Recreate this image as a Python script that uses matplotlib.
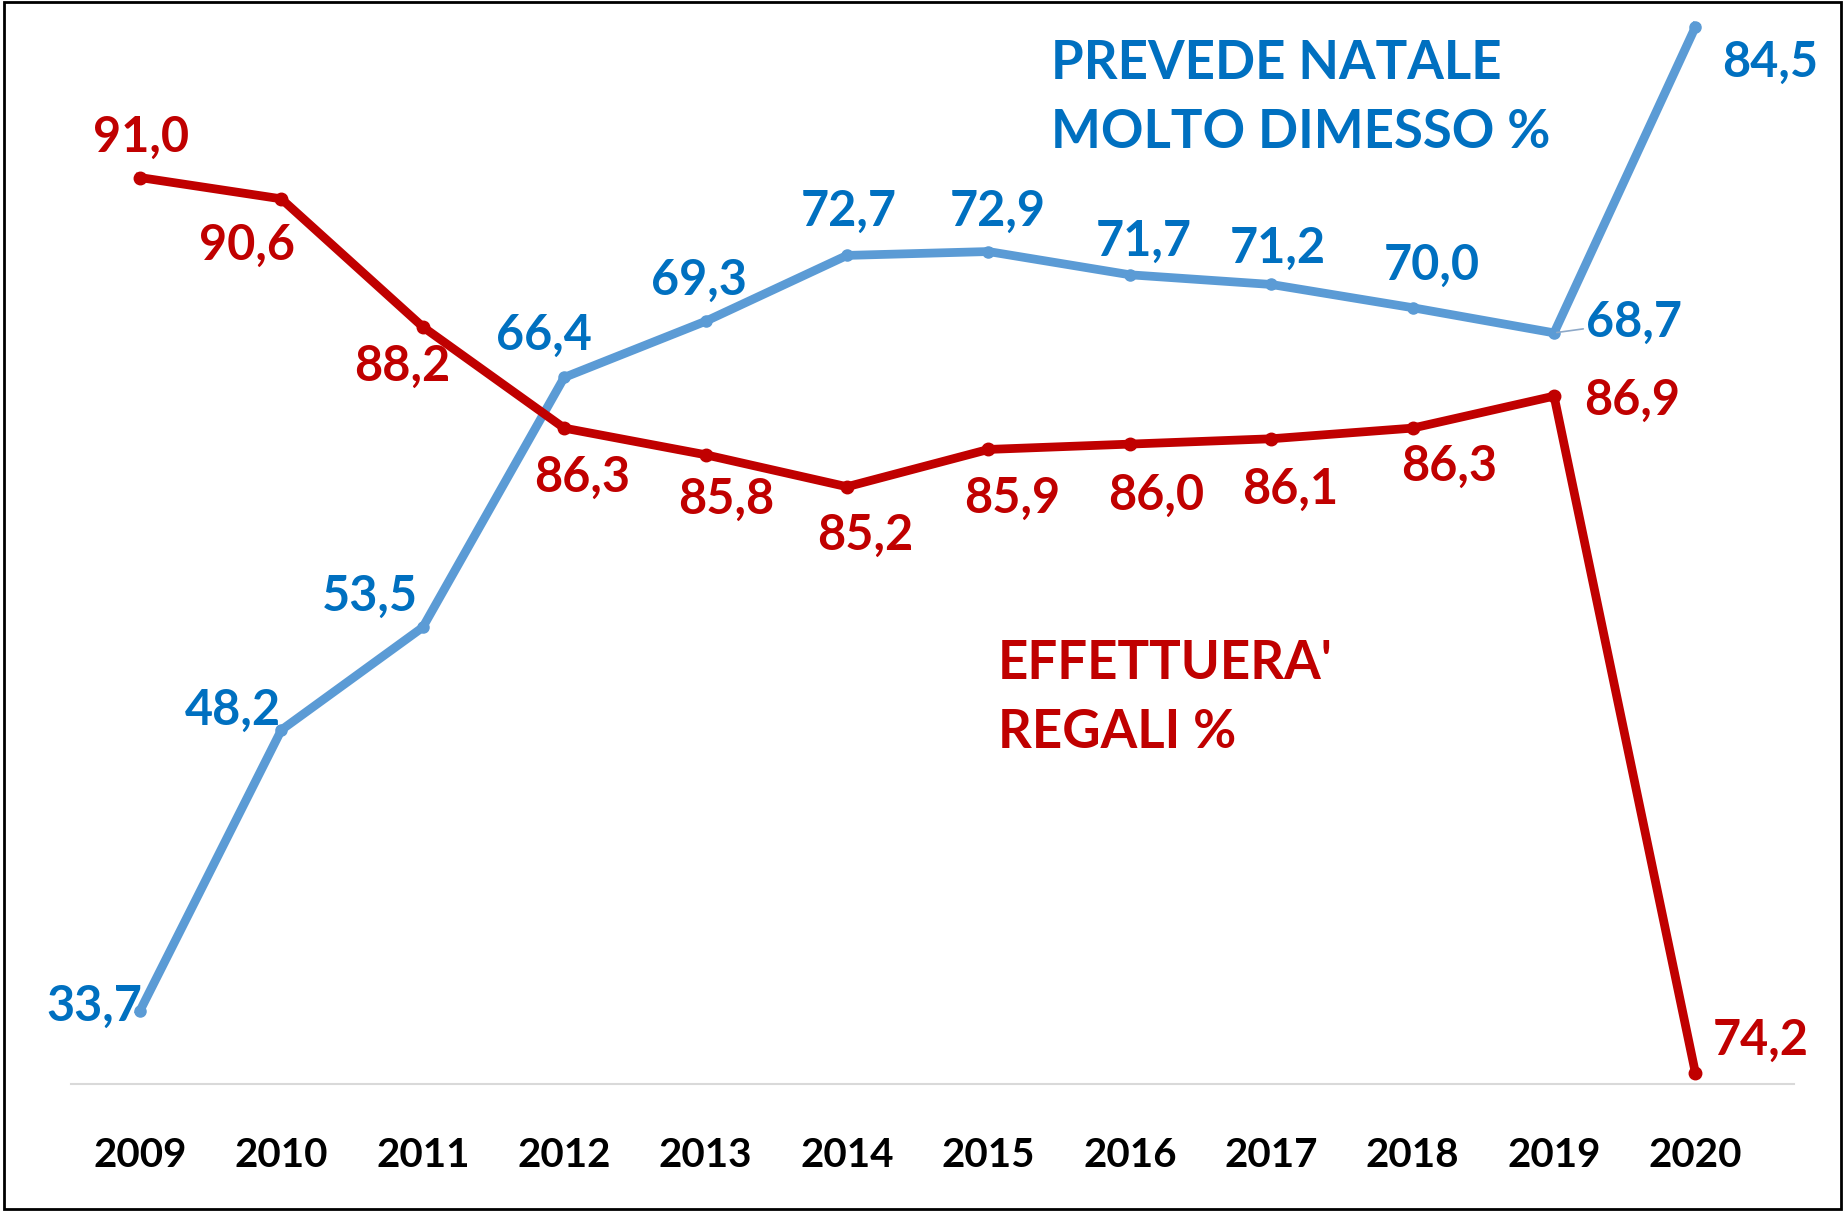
import matplotlib
matplotlib.use('Agg')
import matplotlib.pyplot as plt
from matplotlib.patches import Rectangle

years = [2009, 2010, 2011, 2012, 2013, 2014, 2015, 2016, 2017, 2018, 2019, 2020]
dimesso = [33.7, 48.2, 53.5, 66.4, 69.3, 72.7, 72.9, 71.7, 71.2, 70.0, 68.7, 84.5]
regali = [91.0, 90.6, 88.2, 86.3, 85.8, 85.2, 85.9, 86.0, 86.1, 86.3, 86.9, 74.2]

blue_line = '#5B9BD5'
blue_text = '#0070C0'
red = '#C00000'

# label offsets in pixels (dx, dy)
off_blue = [(-46, 4), (-48, 20), (-53, 31), (-20, 42), (-7, 41), (2, 44),
            (9, 40), (14, 33), (7, 36), (19, 42), (80, 11), (75, -35)]
off_red = [(1, 40), (-34, -46), (-21, -40), (18, -49), (21, -45), (18, -49),
           (24, -49), (26, -51), (19, -51), (36, -38), (78, -4), (65, 33)]

plt.rcParams['font.family'] = ['Lato', 'DejaVu Sans']
plt.rcParams['font.weight'] = 'bold'

fig = plt.figure(figsize=(18.45, 12.11), dpi=100)
ax = fig.add_axes([0.0383, 0.105, 0.9343, 0.8853])
ax2 = ax.twinx()

ax.plot(years, dimesso, color=blue_line, lw=6.3, marker='o', ms=8, solid_joinstyle='miter', zorder=3)
ax2.plot(years, regali, color=red, lw=6.3, marker='o', ms=9, solid_joinstyle='miter', zorder=3)

ax.set_xlim(2008.51, 2020.70)
ax.set_ylim(29.93, 85.28)
ax2.set_ylim(74.0, 94.11)

for i, (x, v) in enumerate(zip(years, dimesso)):
    lbl = f'{v:.1f}'.replace('.', ',')
    if years[i] == 2019:
        ax.annotate(lbl, (x, v), xytext=off_blue[i], textcoords='offset pixels',
                    ha='center', va='center', fontsize=35, color=blue_text,
                    arrowprops=dict(arrowstyle='-', color='#8EA9C8', lw=1.2,
                                    shrinkA=48, shrinkB=2))
    else:
        ax.annotate(lbl, (x, v), xytext=off_blue[i], textcoords='offset pixels',
                    ha='center', va='center', fontsize=35, color=blue_text)

for i, (x, v) in enumerate(zip(years, regali)):
    lbl = f'{v:.1f}'.replace('.', ',')
    ax2.annotate(lbl, (x, v), xytext=off_red[i], textcoords='offset pixels',
                 ha='center', va='center', fontsize=35, color=red)

fig.text(0.5695, 0.919, "PREVEDE NATALE\nMOLTO DIMESSO %", color=blue_text,
         fontsize=38, ha='left', va='center', linespacing=1.5)
fig.text(0.5408, 0.424, "EFFETTUERA'\nREGALI %", color=red,
         fontsize=38, ha='left', va='center', linespacing=1.5)

for a in (ax, ax2):
    for s in a.spines.values():
        s.set_visible(False)
    a.set_yticks([])
ax.spines['bottom'].set_visible(True)
ax.spines['bottom'].set_color('#D9D9D9')
ax.spines['bottom'].set_linewidth(1.5)
ax.set_xticks(years)
ax.set_xticklabels([str(y) for y in years], fontsize=29, fontweight='bold', color='black')
ax.tick_params(axis='x', length=0, pad=38)

fig.patches.append(Rectangle((0.002, 0.002), 0.996, 0.996, transform=fig.transFigure,
                             fill=False, edgecolor='black', lw=2))

fig.savefig('out.png', dpi=100)
